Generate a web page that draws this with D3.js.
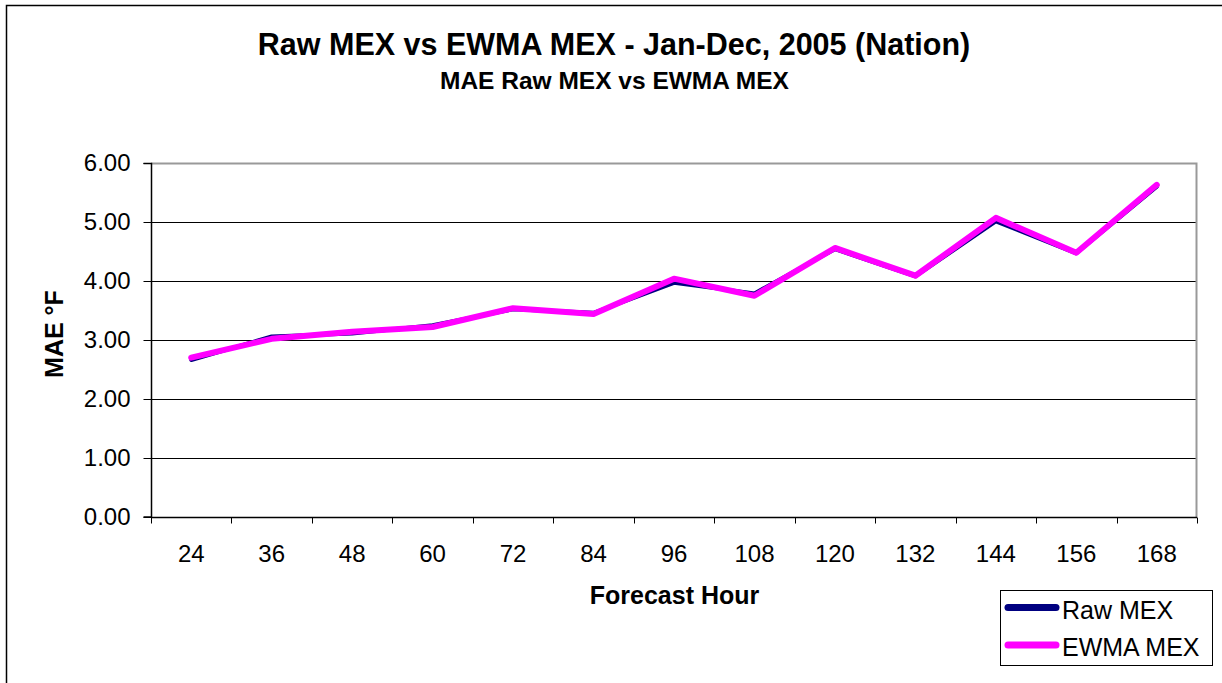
<!DOCTYPE html>
<html>
<head>
<meta charset="utf-8">
<script src="https://cdn.jsdelivr.net/npm/d3@7/dist/d3.min.js"></script>
<style>
  html, body { margin: 0; padding: 0; background: #fff; }
  svg { display: block; font-family: "Liberation Sans", Arial, sans-serif; }
</style>
</head>
<body>
<svg id="chart" width="1222" height="683"></svg>
<script>
// Forecast hours (categories)
const hours = [24, 36, 48, 60, 72, 84, 96, 108, 120, 132, 144, 156, 168];
// Mean absolute error, °F
const rawMex  = [2.66, 3.06, 3.11, 3.25, 3.52, 3.46, 3.97, 3.79, 4.54, 4.08, 5.01, 4.47, 5.60];
const ewmaMex = [2.70, 3.02, 3.14, 3.22, 3.54, 3.44, 4.04, 3.75, 4.56, 4.09, 5.07, 4.48, 5.63];
const yTicks  = [0, 1, 2, 3, 4, 5, 6];
const seriesNames = ["Raw MEX", "EWMA MEX"];
const seriesColors = ["#000080", "#ff00ff"];

const svg = d3.select("#chart");
const plot = { left: 151, right: 1197, top: 163, bottom: 517 };

// Outer chart frame
svg.append("rect")
  .attr("x", 6.5).attr("y", 5.5)
  .attr("width", 1240).attr("height", 700)
  .attr("fill", "#fff").attr("stroke", "#000").attr("stroke-width", 1.5);

const x = d3.scaleBand().domain(hours).range([plot.left, plot.right]).paddingInner(0).paddingOuter(0);
const y = d3.scaleLinear().domain([0, 6]).range([plot.bottom, plot.top]);

// Horizontal gridlines
svg.append("g")
  .selectAll("line")
  .data(yTicks.filter(d => d > 0 && d < 6))
  .join("line")
  .attr("x1", plot.left).attr("x2", plot.right)
  .attr("y1", d => Math.round(y(d)) + 0.5).attr("y2", d => Math.round(y(d)) + 0.5)
  .attr("stroke", "#000").attr("stroke-width", 1);

// Plot-area border (top and right in grey)
svg.append("path")
  .attr("d", `M${plot.left},${plot.top + 0.5}H${plot.right - 0.5}V${plot.bottom}`)
  .attr("fill", "none").attr("stroke", "#999").attr("stroke-width", 2);

// Y axis
const yAxis = d3.axisLeft(y).tickValues(yTicks).tickFormat(d3.format(".2f")).tickSize(8).tickPadding(13);
const gy = svg.append("g").attr("transform", `translate(${plot.left + 0.5},0)`).call(yAxis);
gy.select(".domain").attr("stroke", "#000").attr("stroke-width", 1.5).attr("d", `M-8,${plot.top + 0.5}H0V${plot.bottom}H-8`);
gy.selectAll(".tick line").attr("stroke", "#000");
gy.selectAll(".tick text").attr("font-size", 24).attr("fill", "#000")
  .attr("font-family", "Liberation Sans, Arial, sans-serif");

// X axis: ticks at band boundaries, labels at band centres
const gx = svg.append("g").attr("transform", `translate(0,${plot.bottom + 0.5})`);
gx.append("line").attr("x1", plot.left).attr("x2", plot.right).attr("stroke", "#000").attr("stroke-width", 1.5);
const bounds = hours.map(h => x(h)).concat([plot.right]);
gx.selectAll("line.tk").data(bounds).join("line").attr("class", "tk")
  .attr("x1", d => Math.round(d) + 0.5).attr("x2", d => Math.round(d) + 0.5)
  .attr("y1", 0).attr("y2", 6).attr("stroke", "#000");
gx.selectAll("text").data(hours).join("text")
  .attr("x", d => x(d) + x.bandwidth() / 2)
  .attr("y", 44)
  .attr("text-anchor", "middle")
  .attr("font-size", 24).attr("fill", "#000")
  .text(d => d);

// Series lines
const line = d3.line().x((d, i) => x(hours[i]) + x.bandwidth() / 2).y(d => y(d));
svg.append("path").datum(rawMex).attr("d", line)
  .attr("fill", "none").attr("stroke", seriesColors[0]).attr("stroke-width", 4)
  .attr("stroke-linejoin", "round").attr("stroke-linecap", "round");
svg.append("path").datum(ewmaMex).attr("d", line)
  .attr("fill", "none").attr("stroke", seriesColors[1]).attr("stroke-width", 6)
  .attr("stroke-linejoin", "round").attr("stroke-linecap", "round");

// Titles
svg.append("text").attr("x", 614).attr("y", 55).attr("text-anchor", "middle")
  .attr("font-size", 30.5).attr("font-weight", "bold").text("Raw MEX vs EWMA MEX - Jan-Dec, 2005 (Nation)");
svg.append("text").attr("x", 614.5).attr("y", 89).attr("text-anchor", "middle")
  .attr("font-size", 24.5).attr("font-weight", "bold").text("MAE Raw MEX vs EWMA MEX");
svg.append("text").attr("x", 674.5).attr("y", 603.5).attr("text-anchor", "middle")
  .attr("font-size", 25).attr("font-weight", "bold").text("Forecast Hour");
svg.append("text").attr("transform", "translate(63,334) rotate(-90)").attr("text-anchor", "middle")
  .attr("font-size", 25).attr("font-weight", "bold").text("MAE °F");

// Legend
const lg = svg.append("g");
lg.append("rect").attr("x", 1000.5).attr("y", 590.5).attr("width", 212).attr("height", 75)
  .attr("fill", "#fff").attr("stroke", "#000").attr("stroke-width", 1);
seriesNames.forEach((name, i) => {
  const cy = 607.5 + i * 37.5;
  lg.append("line").attr("x1", 1008).attr("x2", 1056).attr("y1", cy).attr("y2", cy)
    .attr("stroke", seriesColors[i]).attr("stroke-width", 7).attr("stroke-linecap", "round");
  lg.append("text").attr("x", 1062).attr("y", cy + 11).attr("font-size", 25).text(name);
});
</script>
</body>
</html>
